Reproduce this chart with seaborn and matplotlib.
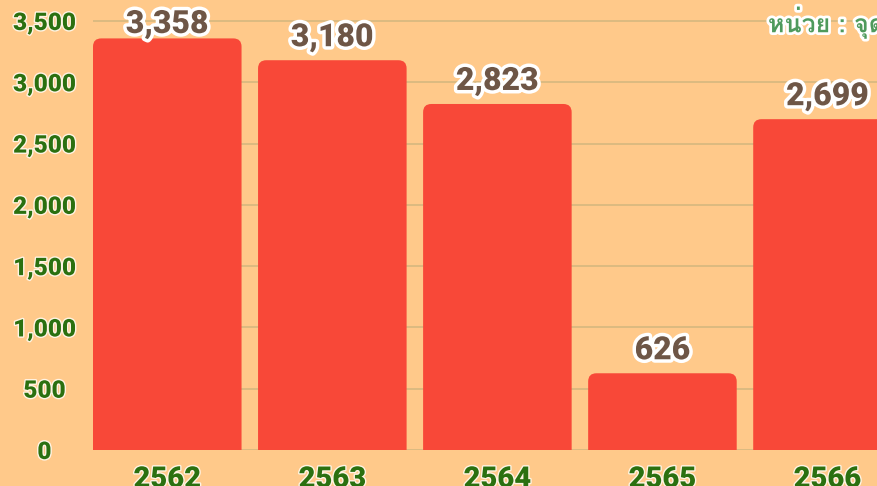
import matplotlib
matplotlib.use("Agg")
import matplotlib.pyplot as plt
import matplotlib.patheffects as pe
from matplotlib import font_manager
from matplotlib.ft2font import FT2Font
from matplotlib.patches import FancyBboxPatch
import seaborn as sns

# data
years = ["2562", "2563", "2564", "2565", "2566"]
counts = [3358, 3180, 2823, 626, 2699]
y_ticks = [0, 500, 1000, 1500, 2000, 2500, 3000, 3500]
unit_text = "หน่วย : จุด"

BG = "#FFC98A"
BAR = "#F84838"
GRID = "#D6B87E"
TICK_GREEN = "#2B7010"
LABEL_BROWN = "#6E5646"
UNIT_GREEN = "#4E9A5C"


def thai_family():
    # find an installed family that has Thai glyphs
    for f in font_manager.fontManager.ttflist:
        try:
            if 0x0E2B in FT2Font(f.fname).get_charmap():
                return f.name
        except Exception:
            pass
    return "DejaVu Sans"


sns.set_theme(style="white")
plt.rcParams["font.family"] = ["Roboto", "DejaVu Sans"]
THAI = thai_family()

fig = plt.figure(figsize=(8.77, 4.86), dpi=100, facecolor=BG)
ax = fig.add_axes([93 / 877, 36 / 486, 1 - 93 / 877, 450 / 486])
ax.set_facecolor(BG)

sns.barplot(x=years, y=counts, color=BAR, width=0.9, saturation=1, ax=ax)

ymax = 3500 * 450 / 429
ax.set_ylim(0, ymax)
ax.set_xlim(-0.45, 4.30)

# swap plain bars for ones with rounded tops
for p in list(ax.patches):
    x, w, h = p.get_x(), p.get_width(), p.get_height()
    p.set_visible(False)
    ax.add_patch(FancyBboxPatch((x, -300), w, h + 300,
                                boxstyle="round,pad=0,rounding_size=0.05",
                                mutation_aspect=1340, fc=BAR, ec="none",
                                zorder=2))

ax.set_yticks(y_ticks)
ax.set_yticklabels([f"{v:,}" for v in y_ticks])
ax.yaxis.grid(True, color=GRID, lw=1.2)
ax.set_axisbelow(True)
sns.despine(ax=ax, left=True, bottom=True, top=True, right=True)

stroke = [pe.withStroke(linewidth=2, foreground="#FFF4E4")]
ax.tick_params(axis="y", length=0, pad=35, labelsize=17.5, labelcolor=TICK_GREEN)
ax.tick_params(axis="x", length=0, pad=11, labelsize=21, labelcolor=TICK_GREEN)
for lab in ax.get_yticklabels():
    lab.set_ha("center")
    lab.set_fontweight("heavy")
    lab.set_path_effects(stroke)
for lab in ax.get_xticklabels():
    lab.set_fontweight("heavy")
    lab.set_path_effects(stroke)
ax.set_xlabel("")
ax.set_ylabel("")

# value labels sit ~14px above the bar, but never above y=33px
for i, v in enumerate(counts):
    top_px = 450 * (1 - v / ymax)
    gap_px = min(14, top_px - 33)
    ax.annotate(f"{v:,}", (i, v), xytext=(0, gap_px * 0.72),
                textcoords="offset points",
                ha="center", va="baseline", fontsize=23, fontweight="heavy",
                color=LABEL_BROWN, annotation_clip=False,
                path_effects=[pe.withStroke(linewidth=5, foreground="white")])

fig.text(768 / 877, 1 - 23 / 486, unit_text, ha="left", va="center",
         fontsize=18, fontweight="heavy", color=UNIT_GREEN,
         family=[THAI, "DejaVu Sans"],
         path_effects=[pe.withStroke(linewidth=4, foreground="white")])

fig.savefig("out.png", dpi=100, facecolor=BG)
